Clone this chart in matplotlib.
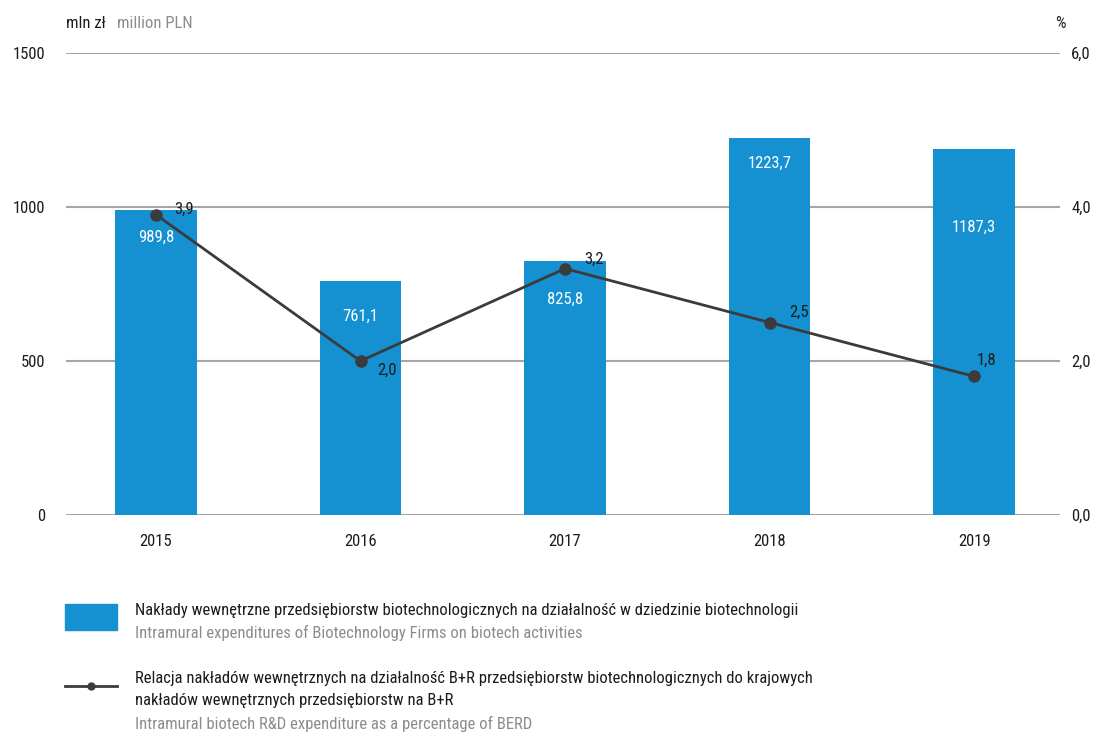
import matplotlib
matplotlib.use('Agg')
import matplotlib.pyplot as plt
from matplotlib import font_manager
from matplotlib.patches import Rectangle
from matplotlib.lines import Line2D

# pick a narrow face if one is installed
names = {f.name for f in font_manager.fontManager.ttflist}
condensed = [f.name for f in font_manager.fontManager.ttflist
             if f.stretch in ('condensed', 'semi-condensed', 'extra-condensed', 375, 250)]
family = 'Lato'
for cand in ['Roboto Condensed', 'Liberation Sans Narrow', 'Open Sans Condensed',
             'Noto Sans Condensed', 'DejaVu Sans Condensed']:
    if cand in names:
        family = cand
        break
else:
    if condensed:
        family = condensed[0]
plt.rcParams['font.family'] = [family, 'DejaVu Sans']

years = ['2015', '2016', '2017', '2018', '2019']
expenditure = [989.8, 761.1, 825.8, 1223.7, 1187.3]
share_berd = [3.9, 2.0, 3.2, 2.5, 1.8]

# label offsets (points) for the value labels
bar_label_dy = [-19.5, -25.5, -27.5, -18.5, -56.5]
line_label_off = [(13, 4), (12, -6.5), (13.5, 6.5), (14, 7), (2, 11.5)]

blue = '#1591d1'
dark = '#3b3b3b'
grey = '#8c8c8c'
ink = '#1c1c1c'
fs = 12

def fmt(v):
    return ('%.1f' % v).replace('.', ',')

fig = plt.figure(figsize=(11.04, 7.34), dpi=100)
ax = fig.add_axes([66/1104, 1 - 515/734, (1060 - 66)/1104, (515 - 53)/734])
ax2 = ax.twinx()

x = list(range(len(years)))
ax.bar(x, expenditure, width=0.4, color=blue, zorder=2)
ax.set_xlim(-0.44, 4.42)
ax.set_ylim(0, 1500)
ax.set_yticks([0, 500, 1000, 1500])
ax.set_yticklabels(['0', '500', '1000', '1500'])
ax.grid(axis='y', color='#a6a6a6', linewidth=1.5, zorder=0)
ax.set_axisbelow(True)
ax.set_xticks(x)
ax.set_xticklabels(years)
for s in ax.spines.values():
    s.set_visible(False)
for s in ax2.spines.values():
    s.set_visible(False)
ax.tick_params(axis='both', length=0, labelsize=fs, colors=ink)
ax.tick_params(axis='y', pad=15)
ax.tick_params(axis='x', pad=14)

for xi, v, dy in zip(x, expenditure, bar_label_dy):
    ax.annotate(fmt(v), (xi, v), xytext=(0, dy), textcoords='offset points',
                ha='center', va='center', color='white', fontsize=fs, zorder=3)

ax2.set_ylim(0, 6)
ax2.set_yticks([0, 2, 4, 6])
ax2.set_yticklabels(['0,0', '2,0', '4,0', '6,0'])
ax2.tick_params(axis='y', length=0, labelsize=fs, colors=ink, pad=8)
ax2.plot(x, share_berd, color=dark, linewidth=2, marker='o', markersize=8, zorder=4)
for xi, v, (dx, dy) in zip(x, share_berd, line_label_off):
    ax2.annotate(fmt(v), (xi, v), xytext=(dx, dy), textcoords='offset points',
                 ha='left', va='center', color=ink, fontsize=fs)

# axis unit captions
fig.text(66/1104, 1 - 24/734, 'mln zł', fontsize=fs, color=ink, va='center', ha='left')
fig.text(117/1104, 1 - 24/734, 'million PLN', fontsize=fs, color=grey, va='center', ha='left')
fig.text(1066/1104, 1 - 24/734, '%', fontsize=fs, color=ink, va='center', ha='right')

# legend drawn by hand
fig.patches.append(Rectangle((65/1104, 1 - 630/734), 52/1104, 26/734,
                             transform=fig.transFigure, color=blue))
fig.text(135/1104, 1 - 611/734,
         'Nakłady wewnętrzne przedsiębiorstw biotechnologicznych na działalność w dziedzinie biotechnologii',
         fontsize=fs, color=ink, va='center')
fig.text(135/1104, 1 - 633/734, 'Intramural expenditures of Biotechnology Firms on biotech activities',
         fontsize=fs, color=grey, va='center')

fig.lines.append(Line2D([65/1104, 117/1104], [1 - 686/734, 1 - 686/734],
                        transform=fig.transFigure, color=dark, linewidth=2))
fig.lines.append(Line2D([91/1104], [1 - 686/734], transform=fig.transFigure,
                        color=dark, marker='o', markersize=5))
fig.text(135/1104, 1 - 679/734,
         'Relacja nakładów wewnętrznych na działalność B+R przedsiębiorstw biotechnologicznych do krajowych',
         fontsize=fs, color=ink, va='center')
fig.text(135/1104, 1 - 701/734, 'nakładów wewnętrznych przedsiębiorstw na B+R',
         fontsize=fs, color=ink, va='center')
fig.text(135/1104, 1 - 724/734, 'Intramural biotech R&D expenditure as a percentage of BERD',
         fontsize=fs, color=grey, va='center')

fig.savefig('out.png', dpi=100)
